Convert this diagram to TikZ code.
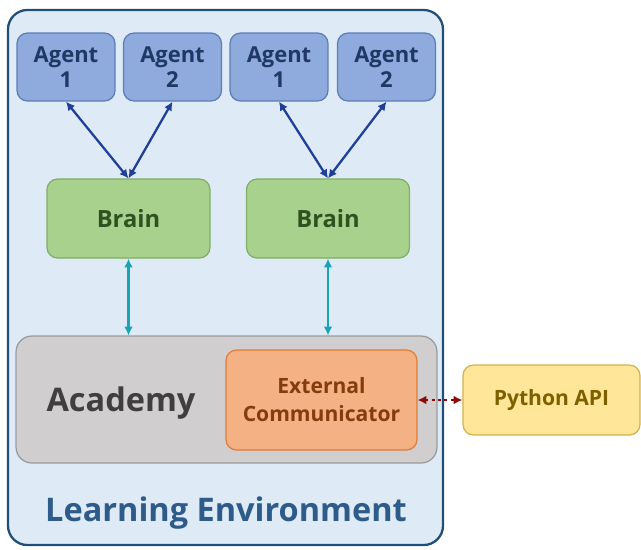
\documentclass[tikz,border=0pt]{standalone}
\usepackage{fontspec}
\setmainfont{Open Sans}
\usetikzlibrary{positioning,arrows.meta}

\definecolor{envfill}{HTML}{DEEBF7}
\definecolor{envline}{HTML}{1F4E79}
\definecolor{envtext}{HTML}{2E5C8A}
\definecolor{agentfill}{HTML}{8FAADC}
\definecolor{agentline}{HTML}{5B7DB8}
\definecolor{agenttext}{HTML}{1F3864}
\definecolor{brainfill}{HTML}{A9D18E}
\definecolor{brainline}{HTML}{7FAE62}
\definecolor{braintext}{HTML}{2F5220}
\definecolor{acadfill}{HTML}{D0CECE}
\definecolor{acadline}{HTML}{9A9A9A}
\definecolor{acadtext}{HTML}{3F3F3F}
\definecolor{commfill}{HTML}{F4B183}
\definecolor{commline}{HTML}{E07B39}
\definecolor{commtext}{HTML}{843C0C}
\definecolor{pyfill}{HTML}{FFE699}
\definecolor{pyline}{HTML}{D4B24A}
\definecolor{pytext}{HTML}{7F6000}
\definecolor{linkblue}{HTML}{1F3F9A}
\definecolor{linkcyan}{HTML}{1AA3B5}
\definecolor{linkred}{HTML}{8B0A0A}

\begin{document}
\begin{tikzpicture}[x=0.02cm,y=-0.02cm,
  box/.style={draw,rounded corners=6pt,line width=0.7pt,align=center,inner sep=0pt},
  agent/.style={box,fill=agentfill,draw=agentline,text=agenttext,
    minimum width=1.96cm,minimum height=1.36cm,
    font=\bfseries\fontsize{12.5}{14}\selectfont},
  brain/.style={box,fill=brainfill,draw=brainline,text=braintext,
    minimum width=3.26cm,minimum height=1.58cm,
    font=\bfseries\fontsize{13.5}{16}\selectfont},
  link/.style={{Latex[length=5pt,width=5pt]}-{Latex[length=5pt,width=5pt]},line width=1.3pt},
  ]
  \useasboundingbox (0,0) rectangle (641,549);

  % learning environment
  \draw[envline,fill=envfill,line width=1.3pt,rounded corners=11pt] (8,10) rectangle (443,545);
  \node[text=envtext,font=\bfseries\fontsize{18.5}{22}\selectfont] (envlbl) at (226,513) {Learning Environment};

  % agents
  \node[agent] (a11) at (66,67) {Agent\\1};
  \node[agent] (a12) at (172.5,67) {Agent\\2};
  \node[agent] (a21) at (279,67) {Agent\\1};
  \node[agent] (a22) at (386.5,67) {Agent\\2};

  % brains
  \node[brain] (b1) at (128.5,218.5) {Brain};
  \node[brain] (b2) at (328,218.5) {Brain};

  % academy
  \node[box,fill=acadfill,draw=acadline,minimum width=8.42cm,minimum height=2.54cm,rounded corners=9pt] (acad) at (226.5,399.5) {};
  \node[text=acadtext,font=\bfseries\fontsize{18.5}{22}\selectfont] (acadlbl) at (121,403) {Academy};
  \node[box,fill=commfill,draw=commline,text=commtext,minimum width=3.82cm,minimum height=2cm,
    font=\bfseries\fontsize{12}{16}\selectfont] (comm) at (321.5,400) {External\\Communicator};

  % python
  \node[box,fill=pyfill,draw=pyline,text=pytext,minimum width=3.54cm,minimum height=1.4cm,
    font=\bfseries\fontsize{12}{14}\selectfont] (py) at (551.5,400) {Python API};

  \draw[link,linkblue] (a11.south) -- (b1.north);
  \draw[link,linkblue] (a12.south) -- (b1.north);
  \draw[link,linkblue] (a21.south) -- (b2.north);
  \draw[link,linkblue] (a22.south) -- (b2.north);

  \draw[link,linkcyan,line width=1.2pt] (b1.south) -- (b1.south |- acad.north);
  \draw[link,linkcyan,line width=1.2pt] (b2.south) -- (b2.south |- acad.north);

  \draw[link,linkred,line width=1.6pt,dotted] (comm.east) -- (py.west);
\end{tikzpicture}
\end{document}
